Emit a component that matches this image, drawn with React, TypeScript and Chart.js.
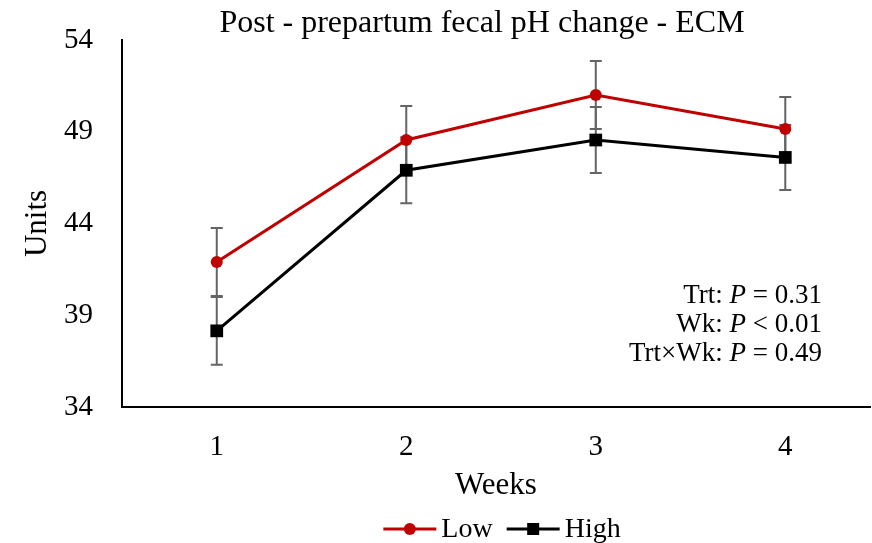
import React, { useEffect, useRef } from 'react';
import { Chart, registerables } from 'chart.js';
Chart.register(...registerables);

const weeks = [1, 2, 3, 4];
const lowValues = [41.9, 48.55, 51.0, 49.15];
const highValues = [38.15, 46.9, 48.55, 47.6];
const lowSE = [1.85, 1.85, 1.85, 1.75];
const highSE = [1.85, 1.8, 1.8, 1.77];
const yTicks = [34, 39, 44, 49, 54];
const statLabels = ['Trt: ', 'Wk: ', 'Trt×Wk: '];
const statValues = [' = 0.31', ' < 0.01', ' = 0.49'];
const titleText = 'Post - prepartum fecal pH change - ECM';

const SERIF = '"Liberation Serif", "Times New Roman", serif';
const LOW_COLOR = '#C00000';
const HIGH_COLOR = '#000000';

const errorBars = {
  id: 'errorBars',
  beforeDatasetsDraw(chart: any) {
    const { ctx, scales } = chart;
    const x = scales.x;
    const y = scales.y;
    ctx.save();
    ctx.strokeStyle = '#646464';
    ctx.lineWidth = 2;
    const series: [number[], number[]][] = [
      [lowValues, lowSE],
      [highValues, highSE],
    ];
    series.forEach(([vals, se]) => {
      vals.forEach((v, i) => {
        const px = x.getPixelForValue(weeks[i]);
        const top = y.getPixelForValue(v + se[i]);
        const bot = y.getPixelForValue(v - se[i]);
        ctx.beginPath();
        ctx.moveTo(px, top);
        ctx.lineTo(px, bot);
        ctx.moveTo(px - 6, top);
        ctx.lineTo(px + 6, top);
        ctx.moveTo(px - 6, bot);
        ctx.lineTo(px + 6, bot);
        ctx.stroke();
      });
    });
    ctx.restore();
  },
};

const titleAndStats = {
  id: 'titleAndStats',
  afterDraw(chart: any) {
    const { ctx } = chart;
    ctx.save();
    ctx.fillStyle = '#000';
    // title
    ctx.font = `32px ${SERIF}`;
    ctx.textAlign = 'center';
    ctx.textBaseline = 'alphabetic';
    ctx.fillText(titleText, chart.width / 2 + 46, 32);

    // stats annotation
    const rightX = 822;
    const ys = [296, 325, 354];
    ctx.textBaseline = 'middle';
    ctx.textAlign = 'left';
    const normal = `27px ${SERIF}`;
    const italic = `italic 27px ${SERIF}`;
    statLabels.forEach((lab, i) => {
      ctx.font = normal;
      const w1 = ctx.measureText(lab).width;
      const w3 = ctx.measureText(statValues[i]).width;
      ctx.font = italic;
      const w2 = ctx.measureText('P').width;
      let xPos = rightX - (w1 + w2 + w3);
      ctx.font = normal;
      ctx.fillText(lab, xPos, ys[i]);
      xPos += w1;
      ctx.font = italic;
      ctx.fillText('P', xPos, ys[i]);
      xPos += w2;
      ctx.font = normal;
      ctx.fillText(statValues[i], xPos, ys[i]);
    });

    // legend
    const ds = chart.data.datasets;
    ctx.font = `28px ${SERIF}`;
    const lineW = 53;
    const gapText = 5;
    const gapItem = 14;
    const widths = ds.map((d: any) => ctx.measureText(d.label).width);
    const total = widths.reduce((a: number, w: number) => a + lineW + gapText + w, 0) + gapItem * (ds.length - 1);
    const ca = chart.chartArea;
    let x = (ca.left + ca.right) / 2 + 6 - total / 2;
    const lineY = 529;
    ds.forEach((d: any, i: number) => {
      ctx.strokeStyle = d.borderColor;
      ctx.fillStyle = d.borderColor;
      ctx.lineWidth = 3;
      ctx.beginPath();
      ctx.moveTo(x, lineY);
      ctx.lineTo(x + lineW, lineY);
      ctx.stroke();
      const cx = x + lineW / 2;
      if (d.pointStyle === 'circle') {
        ctx.beginPath();
        ctx.arc(cx, lineY, 6, 0, Math.PI * 2);
        ctx.fill();
      } else {
        ctx.fillRect(cx - 6, lineY - 6, 12, 12);
      }
      x += lineW + gapText;
      ctx.fillStyle = '#000';
      ctx.textBaseline = 'alphabetic';
      ctx.fillText(d.label, x, 537);
      x += widths[i] + gapItem;
    });
    ctx.restore();
  },
};

export default function App() {
  const ref = useRef<HTMLCanvasElement>(null);
  useEffect(() => {
    if (!ref.current) return;
    const chart = new Chart(ref.current, {
      type: 'line',
      data: {
        datasets: [
          {
            label: 'Low',
            data: weeks.map((w, i) => ({ x: w, y: lowValues[i] })),
            borderColor: LOW_COLOR,
            backgroundColor: LOW_COLOR,
            borderWidth: 3,
            pointStyle: 'circle',
            pointRadius: 6,
            pointBorderWidth: 0,
          },
          {
            label: 'High',
            data: weeks.map((w, i) => ({ x: w, y: highValues[i] })),
            borderColor: HIGH_COLOR,
            backgroundColor: HIGH_COLOR,
            borderWidth: 3,
            pointStyle: 'rect',
            pointRadius: 9,
            pointBorderWidth: 0,
          },
        ],
      },
      options: {
        animation: false,
        responsive: false,
        layout: { autoPadding: false, padding: { top: 40, right: 2, bottom: 30, left: 0 } },
        plugins: {
          title: { display: false },
          legend: { display: false },
          tooltip: { enabled: false },
        },
        scales: {
          x: {
            type: 'linear',
            min: 0.5,
            max: 4.447,
            afterBuildTicks: (s: any) => {
              s.ticks = weeks.map((v) => ({ value: v }));
            },
            afterFit: (s: any) => {
              s.height = s.chart.height - 407 - 30;
              s.paddingLeft = 0;
              s.paddingRight = 0;
            },
            grid: { display: false, drawTicks: false },
            border: { display: true, color: '#000', width: 2 },
            ticks: {
              color: '#000',
              font: { family: SERIF, size: 29 },
              padding: 23,
              callback: (v: any) => String(v),
            },
            title: {
              display: true,
              text: 'Weeks',
              color: '#000',
              font: { family: SERIF, size: 31 },
              padding: { top: 0, bottom: 9 },
            },
          },
          y: {
            type: 'linear',
            min: 34,
            max: 54,
            afterBuildTicks: (s: any) => {
              s.ticks = yTicks.map((v) => ({ value: v }));
            },
            afterFit: (s: any) => {
              s.width = 122;
              s.paddingTop = 0;
              s.paddingBottom = 0;
            },
            grid: { display: false, drawTicks: false },
            border: { display: true, color: '#000', width: 2 },
            ticks: {
              color: '#000',
              font: { family: SERIF, size: 29 },
              padding: 29,
            },
            title: {
              display: true,
              text: 'Units',
              color: '#000',
              font: { family: SERIF, size: 31 },
              padding: { top: 19, bottom: 0 },
            },
          },
        },
      },
      plugins: [errorBars, titleAndStats],
    } as any);
    return () => chart.destroy();
  }, []);
  return (
    <div style={{ position: 'absolute', left: 0, top: 0, width: 872, height: 543, background: '#fff' }}>
      <canvas ref={ref} width={872} height={543} />
    </div>
  );
}
